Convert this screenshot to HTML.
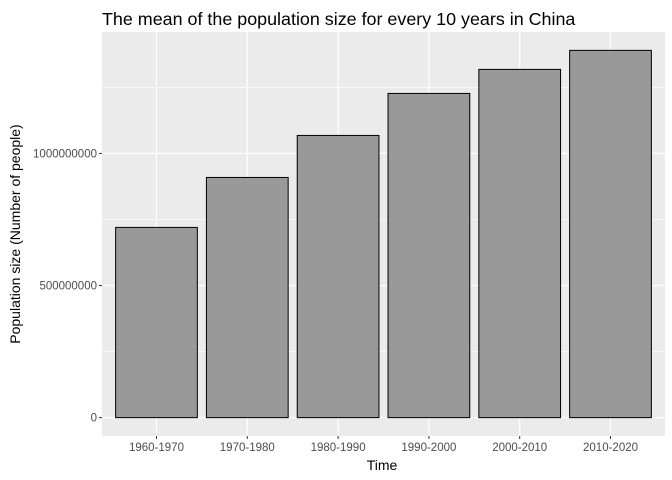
<!DOCTYPE html>
<html><head><meta charset="utf-8"><style>
body{margin:0;background:#fff;}
svg{display:block;font-family:"Liberation Sans",Arial,sans-serif;}
</style></head><body>
<svg id="chart" width="672" height="480">
<rect width="672" height="480" fill="#fff"/>
<text x="102" y="25" font-size="17.9" fill="#000">The mean of the population size for every 10 years in China</text>
<rect id="panel" x="102" y="32" width="563" height="404" fill="#ebebeb"/>
<g id="grid"></g>
<g id="bars"></g>
<g id="yticks"></g>
<g id="xticks"></g>
<text x="382" y="470" font-size="14" text-anchor="middle" fill="#000">Time</text>
<text transform="translate(20,234) rotate(-90)" font-size="14" text-anchor="middle" fill="#000">Population size (Number of people)</text>
</svg>
<script>
const categories=["1960-1970","1970-1980","1980-1990","1990-2000","2000-2010","2010-2020"];
const values=[720e6,909e6,1068e6,1227e6,1318e6,1390e6];
const yTicks=[0,500000000,1000000000];
const yTickLabels=["0","500000000","1000000000"];

const NS="http://www.w3.org/2000/svg";
const px0=102,px1=665,py0=32,py1=436;
const vmax=Math.max(...values),pad=vmax*0.05;
const ymin=-pad,ymax=vmax+pad;
function y(v){return py1-(v-ymin)/(ymax-ymin)*(py1-py0);}
const n=categories.length,unit=(px1-px0)/(n-1+1.2);
function x(i){return px0+unit*(0.6+i);}
function mk(tag,attrs,parent){const e=document.createElementNS(NS,tag);for(const k in attrs)e.setAttribute(k,attrs[k]);parent.appendChild(e);return e;}
const grid=document.getElementById('grid');
for(let i=0;i<yTicks.length;i++){
  const mid=yTicks[i]+(yTicks[1]-yTicks[0])/2;
  if(y(mid)>py0){const m=mk('line',{x1:px0,x2:px1,y1:y(mid),y2:y(mid),stroke:'#fff','stroke-width':0.6},grid);
  
  }
  const g=mk('line',{x1:px0,x2:px1,y1:y(yTicks[i]),y2:y(yTicks[i]),stroke:'#fff','stroke-width':1.2},grid);
  
  
}
for(let i=0;i<n;i++){
  const g=mk('line',{x1:x(i),x2:x(i),y1:py0,y2:py1,stroke:'#fff','stroke-width':1.2},grid);
  
  
}
const bars=document.getElementById('bars');
const bw=unit*0.9;
values.forEach((v,i)=>{
  const r=mk('rect',{x:x(i)-bw/2,y:y(v),width:bw,height:y(0)-y(v),fill:'#999999',stroke:'#000','stroke-width':1},bars);
  
  
});
const yt=document.getElementById('yticks');
yTicks.forEach((t,i)=>{
  const l=mk('line',{x1:px0-3,x2:px0,y1:y(t),y2:y(t),stroke:'#333','stroke-width':1},yt);
  
  
  const tx=mk('text',{x:px0-5,y:y(t)+4,'font-size':11.5,'text-anchor':'end',fill:'#4d4d4d'},yt);
  tx.textContent=yTickLabels[i];
  
  
});
const xt=document.getElementById('xticks');
categories.forEach((c,i)=>{
  const l=mk('line',{x1:x(i),x2:x(i),y1:py1,y2:py1+3,stroke:'#333','stroke-width':1},xt);
  
  
  const tx=mk('text',{x:x(i),y:py1+15,'font-size':11.5,'text-anchor':'middle',fill:'#4d4d4d'},xt);
  tx.textContent=c;
  
  
});
</script>
</body></html>
